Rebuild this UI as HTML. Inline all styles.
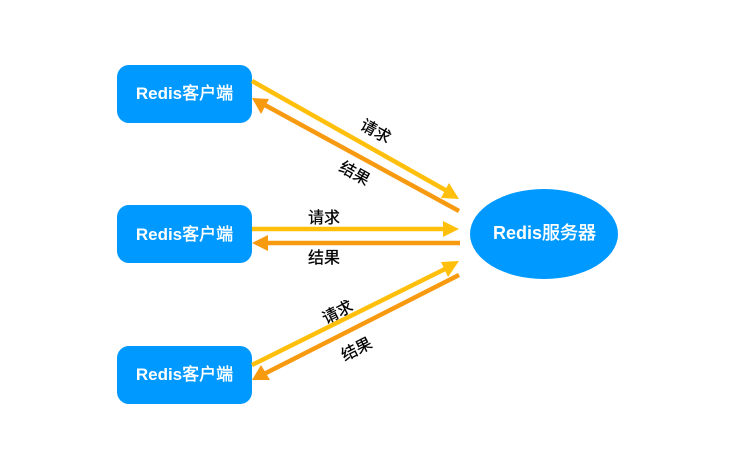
<!DOCTYPE html>
<html>
<head>
<meta charset="utf-8">
<style>
html,body{margin:0;padding:0;background:#fff;}
svg{display:block;}
text{font-family:"Liberation Sans","Noto Sans CJK SC",sans-serif;}
.w{fill:#fff;font-weight:bold;font-size:17px;text-anchor:middle;}
.w tspan{font-weight:400;stroke:#fff;stroke-width:.4px;}
.k{fill:#000;stroke:#000;stroke-width:.25px;font-size:16px;font-weight:400;text-anchor:middle;}
</style>
</head>
<body>
<svg width="732" height="471" viewBox="0 0 732 471" xmlns="http://www.w3.org/2000/svg">
<rect x="117" y="65" width="135" height="58" rx="12" fill="#0099ff"/>
<rect x="117" y="205" width="135" height="58" rx="12" fill="#0099ff"/>
<rect x="117" y="346" width="135" height="58" rx="12" fill="#0099ff"/>
<ellipse cx="544" cy="234" rx="74" ry="45" fill="#0099ff"/>
<text class="w" x="184.500" y="99">Redis<tspan>客户端</tspan></text>
<text class="w" x="184.500" y="240">Redis<tspan>客户端</tspan></text>
<text class="w" x="184.500" y="380">Redis<tspan>客户端</tspan></text>
<text class="w" style="font-size:18px" x="544.500" y="239">Redis<tspan>服务器</tspan></text>

<g stroke-width="4.500" fill="none">
<line x1="252" y1="81" x2="447" y2="191" stroke="#ffbf0a"/>
<line x1="459" y1="211" x2="263" y2="104" stroke="#f89a10"/>
<line x1="252" y1="229" x2="445" y2="229" stroke="#ffbf0a"/>
<line x1="460" y1="243" x2="266" y2="243" stroke="#f89a10"/>
<line x1="252" y1="365" x2="447" y2="268" stroke="#ffbf0a"/>
<line x1="459" y1="275" x2="264" y2="374" stroke="#f89a10"/>
</g>
<polygon points="459,199 441,198 449,183" fill="#ffbf0a"/>
<polygon points="252,98 269,99 261,114" fill="#f89a10"/>
<polygon points="459,229 443,221 443,237" fill="#ffbf0a"/>
<polygon points="252,243 268,235 268,251" fill="#f89a10"/>
<polygon points="459,261 448,277 441,262" fill="#ffbf0a"/>
<polygon points="252,380 261,365 270,380" fill="#f89a10"/>

<text class="k" transform="translate(373 136) rotate(29)">请求</text>
<text class="k" transform="translate(352 178) rotate(29)">结果</text>
<text class="k" x="324" y="223">请求</text>
<text class="k" x="324" y="263">结果</text>
<text class="k" transform="translate(340 317) rotate(-27)">请求</text>
<text class="k" transform="translate(359 354) rotate(-27)">结果</text>
</svg>
</body>
</html>
